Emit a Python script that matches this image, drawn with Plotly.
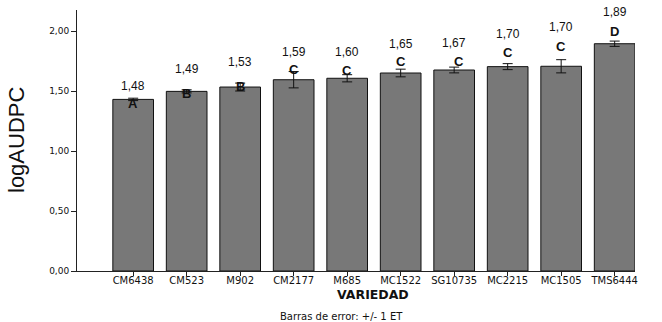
import plotly.graph_objects as go

variedad = ["CM6438", "CM523", "M902", "CM2177", "M685", "MC1522",
            "SG10735", "MC2215", "MC1505", "TMS6444"]
log_audpc = [1.43, 1.497, 1.533, 1.594, 1.606, 1.65, 1.675, 1.703, 1.706, 1.894]
error_et = [0.01, 0.013, 0.033, 0.068, 0.03, 0.032, 0.024, 0.025, 0.055, 0.022]
value_labels = ["1,48", "1,49", "1,53", "1,59", "1,60", "1,65", "1,67", "1,70", "1,70", "1,89"]
group_letters = ["A", "B", "B", "C", "C", "C", "C", "C", "C", "D"]

# annotation placement (as drawn in the reference)
label_y = [1.542, 1.68, 1.742, 1.823, 1.825, 1.894, 1.897, 1.978, 2.03, 2.156]
letter_y = [1.40, 1.478, 1.54, 1.68, 1.675, 1.75, 1.744, 1.82, 1.87, 2.0]
letter_dx = [0, 0, 0, 0, 0, 0, 5, 0, 0, 0]

x_idx = list(range(len(variedad)))

fig = go.Figure()
fig.add_trace(go.Bar(
    x=x_idx, y=log_audpc, width=0.76,
    marker=dict(color="#787878", line=dict(color="#111111", width=1)),
    error_y=dict(type="data", array=error_et, visible=True,
                 color="#111111", thickness=1, width=5),
    showlegend=False, hoverinfo="skip",
))

annotations = []
for i in x_idx:
    annotations.append(dict(x=i, y=label_y[i], xref="x", yref="y",
                            text=value_labels[i], showarrow=False,
                            font=dict(family="Liberation Sans, Arial", size=12, color="#111111")))
    annotations.append(dict(x=i, y=letter_y[i], xref="x", yref="y", xshift=letter_dx[i],
                            text="<b>" + group_letters[i] + "</b>", showarrow=False,
                            font=dict(family="Liberation Sans, Arial", size=13, color="#111111")))

annotations.append(dict(x=373, y=295, xref="paper", yref="paper", text="<b>VARIEDAD</b>",
                        showarrow=False, font=dict(family="DejaVu Sans", size=12.5, color="#111111")))
annotations.append(dict(x=341, y=316, xref="paper", yref="paper", text="Barras de error: +/- 1 ET",
                        showarrow=False, font=dict(family="DejaVu Sans", size=10, color="#111111")))
annotations.append(dict(x=16, y=140, xref="paper", yref="paper", text="logAUDPC", textangle=-90,
                        showarrow=False, font=dict(family="Liberation Sans, Arial", size=22, color="#111111")))

# convert pixel-placed paper annotations
L, R, T, B = 77, 27, 10, 51
W, H = 662, 322
pw, ph = W - L - R, H - T - B
for a in annotations:
    if a["xref"] == "paper":
        a["x"] = (a["x"] - L) / pw
        a["y"] = (H - B - a["y"]) / ph
        a["xanchor"] = "center"
        a["yanchor"] = "middle"

fig.update_layout(
    width=W, height=H,
    margin=dict(l=L, r=R, t=T, b=B),
    plot_bgcolor="white", paper_bgcolor="white",
    separators=",.",
    annotations=annotations,
)
fig.update_xaxes(
    tickmode="array", tickvals=x_idx, ticktext=variedad,
    range=[-1.05, 9.38], showline=True, linecolor="#222222", linewidth=1,
    ticks="outside", ticklen=4, tickcolor="#222222", showgrid=False, zeroline=False,
    ticklabelstandoff=-4,
    tickfont=dict(family="DejaVu Sans", size=10, color="#111111"),
)
fig.update_yaxes(
    range=[0, 2.175], tickvals=[0, 0.5, 1.0, 1.5, 2.0], tickformat=".2f",
    showline=True, linecolor="#222222", linewidth=1,
    ticks="outside", ticklen=5, tickcolor="#222222", showgrid=False, zeroline=False,
    tickfont=dict(family="DejaVu Sans", size=9, color="#111111"),
)

fig.write_html("out.html", config={"displayModeBar": False},
               post_script="document.body.style.margin='0';")
